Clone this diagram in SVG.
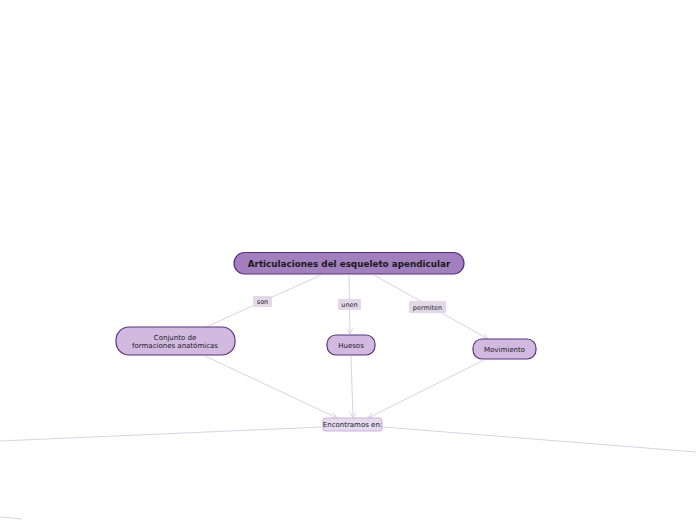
<svg xmlns="http://www.w3.org/2000/svg" width="696" height="520" viewBox="0 0 696 520">
<style>
.t{font-family:"DejaVu Sans","Liberation Sans",sans-serif;fill:#1a1a1a;text-anchor:middle}
.n{fill:#d1b9e0;stroke:#5b3380;stroke-width:1.2}
.m{fill:#a27fbd;stroke:#5b2d85;stroke-width:1.2}
.lb{fill:#e2d8ea;stroke:none}
.c{fill:none;stroke:#dcd0e6;stroke-width:1}
</style>
<defs>
<marker id="a" viewBox="0 0 10 10" refX="9" refY="5" markerWidth="7" markerHeight="7" orient="auto" markerUnits="userSpaceOnUse">
<path d="M1,1 L9,5 L1,9" fill="none" stroke="#dcd0e6" stroke-width="1.4"/>
</marker>
</defs>
<rect width="696" height="520" fill="#ffffff"/>
<g id="connectors">
<path class="c" d="M321,275 L206,327"/>
<path class="c" d="M349,275 L350,334" marker-end="url(#a)"/>
<path class="c" d="M374,275 L488,339" marker-end="url(#a)"/>
<path class="c" d="M205,356 L337,418" marker-end="url(#a)"/>
<path class="c" d="M351,356 L353,418" marker-end="url(#a)"/>
<path class="c" d="M484,360 L368,418" marker-end="url(#a)"/>
<path class="c" d="M322,427 L0,441"/>
<path class="c" d="M383,427 L696,452"/>
<path class="c" d="M0,517 L22,519"/>
</g>
<g id="lbl-son"><rect class="lb" x="253" y="296" width="19" height="11" rx="1"/><text class="t" x="262.5" y="304" font-size="6.5">son</text></g>
<g id="lbl-unen"><rect class="lb" x="338" y="299" width="23" height="11" rx="1"/><text class="t" x="349.5" y="307" font-size="6.5">unen</text></g>
<g id="lbl-permiten"><rect class="lb" x="409" y="301" width="37" height="12" rx="1"/><text class="t" x="427.5" y="309.5" font-size="6.5">permiten</text></g>
<g id="main"><rect class="m" x="234" y="252.5" width="230" height="21.5" rx="10.7"/><text class="t" x="349" y="266.5" font-size="8.8" font-weight="bold">Articulaciones del esqueleto apendicular</text></g>
<g id="conjunto"><rect class="n" x="116" y="327" width="119" height="28" rx="13"/><text class="t" x="175" y="339.5" font-size="7">Conjunto de</text><text class="t" x="175" y="348" font-size="7">formaciones anatómicas</text></g>
<g id="huesos"><rect class="n" x="327" y="335" width="48" height="20" rx="9"/><text class="t" x="351" y="347.5" font-size="7">Huesos</text></g>
<g id="movimiento"><rect class="n" x="473" y="339" width="63" height="20" rx="9"/><text class="t" x="504.5" y="351.5" font-size="7">Movimiento</text></g>
<g id="encontramos"><rect x="323" y="418" width="59" height="13" rx="2" fill="#e5daef" stroke="#cbb6dc" stroke-width="1"/><text class="t" x="352.5" y="427" font-size="7">Encontramos en:</text></g>
</svg>
